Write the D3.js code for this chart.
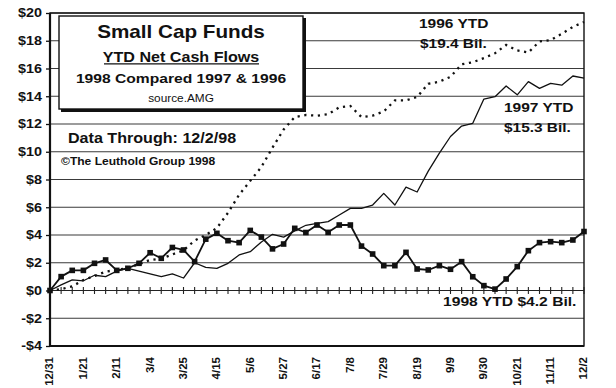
<!DOCTYPE html>
<html><head><meta charset="utf-8">
<script src="https://cdn.jsdelivr.net/npm/d3@7"></script>
<style>
html,body{margin:0;padding:0;background:#fff;}
svg{display:block;}
text{font-family:"Liberation Sans",Arial,sans-serif;fill:#111;}
</style></head>
<body>
<svg id="c" width="616" height="388"></svg>
<script>
const weeks = ["12/31","1/7","1/14","1/21","1/28","2/4","2/11","2/18","2/25","3/4","3/11","3/18","3/25","4/1","4/8","4/15","4/22","4/29","5/6","5/13","5/20","5/27","6/3","6/10","6/17","6/24","7/1","7/8","7/15","7/22","7/29","8/5","8/12","8/19","8/26","9/2","9/9","9/16","9/23","9/30","10/7","10/14","10/21","10/28","11/4","11/11","11/18","11/25","12/2"];
const tickLabels = ["12/31","1/21","2/11","3/4","3/25","4/15","5/6","5/27","6/17","7/8","7/29","8/19","9/9","9/30","10/21","11/11","12/2"];
const yTicks = [-4,-2,0,2,4,6,8,10,12,14,16,18,20];
const ytd1996 = [0,0.1,0.3,0.75,1.05,1.35,1.5,1.6,1.9,2.2,2.3,2.6,2.9,3.6,4.0,4.5,5.6,6.9,7.9,8.9,10.3,11.6,12.5,12.65,12.6,12.7,13.2,13.3,12.5,12.6,12.9,13.7,13.7,13.95,14.9,15.05,15.4,16.3,16.45,16.75,17.1,17.7,17.3,17.15,17.95,18.05,18.5,19.0,19.35];
const ytd1997 = [0,0.4,0.76,0.7,1.1,1.0,1.4,1.6,1.4,1.2,1.0,1.2,0.9,2.0,1.67,1.6,1.96,2.56,2.8,3.5,4.05,3.85,4.3,4.7,4.84,4.96,5.44,5.92,5.92,6.16,7.0,6.16,7.45,7.1,8.6,9.9,11.1,11.85,12.05,13.8,13.97,14.74,14.1,15.05,14.57,14.93,14.8,15.46,15.3];
const ytd1998 = [0,1.0,1.45,1.45,1.96,2.2,1.45,1.6,1.96,2.72,2.32,3.1,2.92,2.08,3.7,4.12,3.59,3.45,4.33,3.85,3.0,3.35,4.48,4.18,4.72,4.19,4.72,4.72,3.2,2.63,1.79,1.79,2.75,1.55,1.48,1.79,1.53,2.08,0.99,0.35,0.1,0.83,1.72,2.87,3.45,3.52,3.45,3.64,4.25];
const zeroLine = weeks.map(() => 0);

const svg = d3.select("#c");
const L = 50, R = 584, T = 13, B = 346;
const x = d3.scalePoint().domain(weeks).range([L, R]);
const y = d3.scaleLinear().domain([-4, 20]).range([B, T]);
const SX = 1.15;

function txt(px, py, s, size, weight, anchor) {
  return svg.append("text")
    .attr("transform", `translate(${px},${py}) scale(${SX},1)`)
    .attr("font-size", size).attr("font-weight", weight || "bold")
    .attr("text-anchor", anchor || "start").text(s);
}

// gridlines
svg.append("g").selectAll("line").data(yTicks.filter(v => v !== 0)).join("line")
  .attr("x1", L).attr("x2", R).attr("y1", d => y(d)).attr("y2", d => y(d))
  .attr("stroke", "#3a3a3a").attr("stroke-width", 1.1);

// y axis
const ya = svg.append("g").attr("transform", `translate(${L},0)`)
  .call(d3.axisLeft(y).tickValues(yTicks).tickSize(4).tickFormat(d => (d < 0 ? "-$" : "$") + Math.abs(d)));
ya.select(".domain").remove();
ya.selectAll(".tick line").attr("stroke", "#111").attr("stroke-width", 1.3);
ya.selectAll(".tick text").remove();
yTicks.forEach(v => {
  txt(42, y(v) + 4.3, (v < 0 ? "-$" : "$") + Math.abs(v), 12.5, "bold", "end");
});

// x axis labels
const xa = svg.append("g").attr("transform", `translate(0,${B})`)
  .call(d3.axisBottom(x).tickValues(tickLabels).tickSize(0));
xa.select(".domain").remove();
xa.selectAll(".tick text")
  .attr("transform", "rotate(-90)")
  .attr("x", -11).attr("y", 0).attr("dy", "0.1em").attr("dx", 0)
  .attr("text-anchor", "end")
  .attr("font-size", 11.5).attr("font-weight", "bold")
  .attr("font-family", "Liberation Sans, Arial, sans-serif").attr("fill", "#111");
xa.selectAll(".tick").each(function() {
  const t = d3.select(this).select("text");
  t.attr("transform", "translate(1.8,0) rotate(-90)");
});

// frame
svg.append("rect").attr("x", L).attr("y", T).attr("width", R - L).attr("height", B - T)
  .attr("fill", "none").attr("stroke", "#111").attr("stroke-width", 1.4);
svg.append("line").attr("x1", L).attr("x2", L).attr("y1", T).attr("y2", B).attr("stroke", "#111").attr("stroke-width", 2.2);
svg.append("line").attr("x1", L).attr("x2", R).attr("y1", B).attr("y2", B).attr("stroke", "#111").attr("stroke-width", 2.2);

// zero line with + markers
const line = d3.line().x((d, i) => x(weeks[i])).y(d => y(d));
svg.append("path").datum(zeroLine).attr("d", line).attr("fill", "none")
  .attr("stroke", "#222").attr("stroke-width", 1.2);
svg.append("g").selectAll("line").data(zeroLine).join("line")
  .attr("x1", (d, i) => x(weeks[i])).attr("x2", (d, i) => x(weeks[i]))
  .attr("y1", d => y(d) - 3.5).attr("y2", d => y(d) + 3.5)
  .attr("stroke", "#222").attr("stroke-width", 1.1);

// 1996 dotted
svg.append("path").datum(ytd1996).attr("d", line).attr("fill", "none")
  .attr("stroke", "#111").attr("stroke-width", 2.3).attr("stroke-dasharray", "2.2,4.6");

// 1997 solid
svg.append("path").datum(ytd1997).attr("d", line).attr("fill", "none")
  .attr("stroke", "#111").attr("stroke-width", 1.3).attr("stroke-linejoin", "round");

// 1998 with markers
svg.append("path").datum(ytd1998).attr("d", line).attr("fill", "none")
  .attr("stroke", "#111").attr("stroke-width", 1.8).attr("stroke-linejoin", "round");
svg.append("g").selectAll("rect").data(ytd1998).join("rect")
  .attr("x", (d, i) => x(weeks[i]) - 2.8).attr("y", d => y(d) - 2.8)
  .attr("width", 5.6).attr("height", 5.6).attr("fill", "#111");

// title box
svg.append("rect").attr("x", 61).attr("y", 18).attr("width", 245).attr("height", 94).attr("fill", "#111");
svg.append("rect").attr("x", 59).attr("y", 16).attr("width", 244).attr("height", 93)
  .attr("fill", "#fff").attr("stroke", "#111").attr("stroke-width", 1.4);

txt(181, 37.5, "Small Cap Funds", 18, "bold", "middle");
txt(181, 61.5, "YTD Net Cash Flows", 14, "bold", "middle");
svg.append("line").attr("x1", 104).attr("x2", 259).attr("y1", 63.8).attr("y2", 63.8)
  .attr("stroke", "#111").attr("stroke-width", 1.2);
txt(181, 83, "1998  Compared 1997 & 1996", 13.6, "bold", "middle");
txt(181, 101.5, "source.AMG", 10.3, "normal", "middle");

txt(68, 142.7, "Data Through: 12/2/98", 14, "bold", "start");
txt(61, 165, "\u00A9The Leuthold Group 1998", 10.5, "bold", "start");

txt(419, 28.3, "1996 YTD", 13.5, "bold", "start");
txt(420, 48.3, "$19.4 Bil.", 13.4, "bold", "start");
txt(504, 111.7, "1997 YTD", 13.5, "bold", "start");
txt(504, 131.7, "$15.3 Bil.", 13.4, "bold", "start");
txt(443, 305.7, "1998 YTD $4.2 Bil.", 13.6, "bold", "start");
</script>
</body></html>
